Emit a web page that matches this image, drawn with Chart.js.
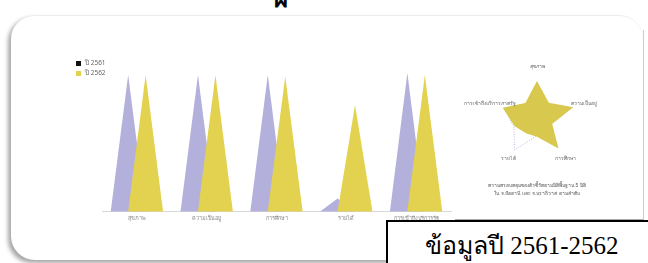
<!DOCTYPE html>
<html>
<head>
<meta charset="utf-8">
<script src="https://cdn.jsdelivr.net/npm/chart.js@4.4.1/dist/chart.umd.min.js"></script>
<style>
  html, body { margin: 0; padding: 0; background: #fff; }
  body { width: 648px; height: 263px; overflow: hidden; position: relative; font-family: "Noto Sans", "DejaVu Sans", sans-serif; }
  #card { position: absolute; left: 11px; top: 15px; width: 632px; height: 244px; border-radius: 24px;
          background: #fff; box-shadow: -3px 3px 4px rgba(0,0,0,0.35); border-top: 1px solid #eee; }
  #topglyph { position: absolute; left: 274px; top: -21px; font: bold 24px "DejaVu Sans", sans-serif; color: #000; }
  #legend { position: absolute; left: 76px; top: 58px; font-size: 6.5px; color: #666; line-height: 10px; }
  #legend span.sw { display: inline-block; width: 5px; height: 5px; margin-right: 4px; vertical-align: middle; }
  #barWrap { position: absolute; left: 0; top: 0; width: 470px; height: 235px; }
  #radarWrap { position: absolute; left: 437px; top: 40px; width: 200px; height: 165px; }
  #panelLine { position: absolute; left: 455px; top: 30px; width: 188px; height: 189px;
               border-right: 1px solid #ccc; border-bottom: 1px solid #aaa; }
  #yearBox { position: absolute; left: 386px; top: 220px; width: 270px; height: 50px; background: #fff;
             border: 2px solid #000; box-sizing: border-box; }
  #yearBox div { position: absolute; left: 37px; top: 3px; font: 25px "Liberation Serif", "DejaVu Serif", serif; color: #000; white-space: nowrap; }
</style>
</head>
<body>
<div id="topglyph">ผ</div>
<div id="card"></div>
<div id="panelLine"></div>
<div id="barWrap"><canvas id="bar"></canvas></div>
<div id="legend"></div>
<div id="radarWrap"><canvas id="radar"></canvas></div>
<div id="yearBox"><div>ข้อมูลปี 2561-2562</div></div>
<script>
// data
var categories = ["สุขภาพ", "ความเป็นอยู่", "การศึกษา", "รายได้", "การเข้าถึงบริการรัฐ"];
var seriesNames = ["ปี 2561", "ปี 2562"];
var values2561 = [100, 100, 100, 9.5, 101.5];
var values2562 = [100, 100, 99, 78, 100];

var radarLabels = ["สุขภาพ", "", "ความเป็นอยู่", "", "การศึกษา", "", "รายได้", "", "การเข้าถึงบริการภาครัฐ", ""];
var radar2561 = [96, 50, 96, 40, 92, 44, 100, 64, 92, 50];
var radar2562 = [100, 53, 100, 42, 96, 47, 47, 62, 95, 52];
var radarNote = ["ความครอบคลุมของตัวชี้วัดตามมิติพื้นฐาน 5 มิติ", "ใน จ.ปัตตานี และ จ.นราธิวาส ตามลำดับ"];

var barColors = ["#b3b0dc", "#e3d250"];
var legendColors = ["#111111", "#e3d250"];

// legend (html)
var lg = document.getElementById('legend');
seriesNames.forEach(function(n, i) {
  lg.innerHTML += '<div><span class="sw" style="background:' + legendColors[i] + '"></span>' + n + '</div>';
});

// draw bars as triangles, using the bar elements from the scales
var trianglePlugin = {
  id: 'triangles',
  beforeDatasetsDraw: function(chart) {
    var ctx = chart.ctx;
    chart.data.datasets.forEach(function(ds, di) {
      var meta = chart.getDatasetMeta(di);
      ctx.save();
      ctx.fillStyle = ds.backgroundColor;
      meta.data.forEach(function(el) {
        var w = el.width;
        ctx.beginPath();
        ctx.moveTo(el.x - w, el.base);
        ctx.lineTo(el.x, el.y);
        ctx.lineTo(el.x + w, el.base);
        ctx.closePath();
        ctx.fill();
      });
      ctx.restore();
    });
    return false;
  }
};

// radar axis labels centred on their point positions
var centredLabels = {
  id: 'centredLabels',
  afterDraw: function(chart) {
    var r = chart.scales.r, ctx = chart.ctx;
    ctx.save();
    ctx.font = '5px "Noto Sans", sans-serif';
    ctx.fillStyle = '#666';
    ctx.textAlign = 'center';
    ctx.textBaseline = 'middle';
    chart.data.labels.forEach(function(lab, i) {
      if (!lab) return;
      var p = r.getPointPosition(i, r.drawingArea + (i === 0 ? 14 : 11));
      ctx.fillText(lab, p.x, p.y);
    });
    ctx.restore();
  }
};

new Chart(document.getElementById('bar'), {
  type: 'bar',
  data: {
    labels: categories,
    datasets: [
      { label: seriesNames[0], data: values2561, backgroundColor: barColors[0] },
      { label: seriesNames[1], data: values2562, backgroundColor: barColors[1] }
    ]
  },
  options: {
    responsive: true,
    maintainAspectRatio: false,
    animation: false,
    layout: { padding: { left: 102, right: 19, top: 73, bottom: 9 } },
    plugins: { legend: { display: false }, tooltip: { enabled: false } },
    datasets: { bar: { categoryPercentage: 0.5, barPercentage: 1 } },
    scales: {
      x: {
        grid: { display: false, drawTicks: false },
        border: { display: true, color: '#d8d8d8' },
        ticks: { color: '#888', font: { size: 5.5 }, padding: 4 }
      },
      y: { display: false, min: 0, max: 101.5 }
    }
  },
  plugins: [trianglePlugin]
});

new Chart(document.getElementById('radar'), {
  type: 'radar',
  data: {
    labels: radarLabels,
    datasets: [
      { label: seriesNames[1], data: radar2562, backgroundColor: '#d9c84e', borderColor: '#d9c84e',
        borderWidth: 0, pointRadius: 0, fill: true, order: 0 },
      { label: seriesNames[0], data: radar2561, backgroundColor: 'rgba(0,0,0,0)', borderColor: '#b8b6dc',
        borderWidth: 1, borderDash: [1, 1.5], pointRadius: 0, fill: false, order: 1 }
    ]
  },
  options: {
    responsive: true,
    maintainAspectRatio: false,
    animation: false,
    layout: { padding: { top: 41, bottom: 0, left: 0, right: 0 } },
    plugins: {
      legend: { display: false },
      tooltip: { enabled: false },
      title: { display: true, position: 'bottom', text: radarNote, color: '#555',
               font: { size: 5, weight: 'normal', lineHeight: 1.6 }, padding: { top: 25, bottom: 7 } }
    },
    elements: { line: { tension: 0 } },
    scales: {
      r: {
        min: 0, max: 100,
        grid: { display: false },
        angleLines: { display: false },
        ticks: { display: false },
        pointLabels: { display: false }
      }
    }
  },
  plugins: [centredLabels]
});
</script>
</body>
</html>
